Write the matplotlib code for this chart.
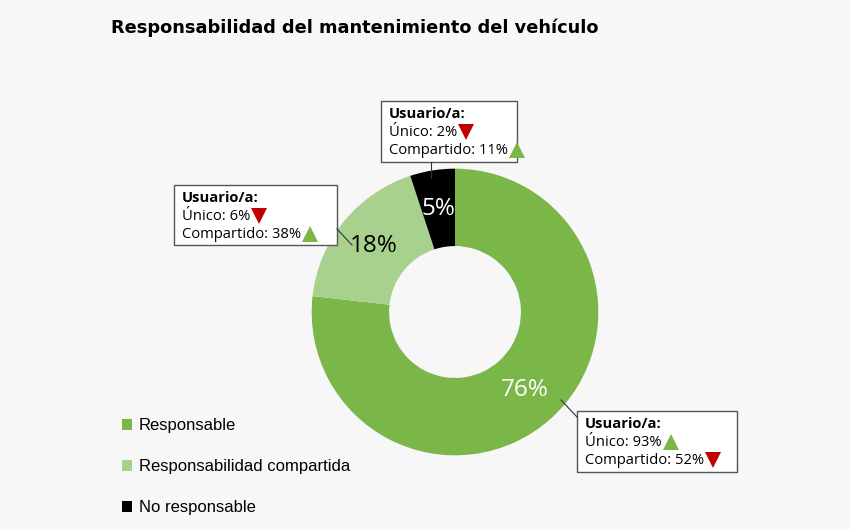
import matplotlib.pyplot as plt
from matplotlib.patches import Rectangle

# %%
labels = ["Responsable", "Responsabilidad compartida", "No responsable"]
shares = [76, 18, 5]
colors = ["#7AB648", "#A9D18E", "#000000"]
pct_colors = ["white", "black", "white"]

# callout data per slice: "Único" and "Compartido" user values with trend
unico = [93, 6, 2]
unico_up = [True, False, False]
compartido = [52, 38, 11]
compartido_up = [False, True, True]

# callout boxes in figure pixels (left, top, width, height) and connector lines
boxes = [(577, 411, 160, 61), (174, 185, 163, 60), (381, 101, 136, 61)]
connectors = [((577, 417), (561, 400)), ((337, 229), (352, 245)), ((431, 162), (431, 178))]

bg = "#F7F7F7"
up_color = "#7AB648"
down_color = "#C00000"
box_font = "Open Sans"

# %%
W, H = 850, 530
fig = plt.figure(figsize=(W / 100, H / 100), dpi=100, facecolor=bg)

cx, cy, half = 455, 312, 172
ax = fig.add_axes([(cx - half) / W, (H - cy - half) / H, 2 * half / W, 2 * half / H])
ax.set_facecolor(bg)
wedges, _, autotexts = ax.pie(
    shares,
    colors=colors,
    startangle=90,
    counterclock=False,
    radius=1.0,
    autopct="%d",
    pctdistance=0.73,
    wedgeprops=dict(width=0.54, edgecolor="none"),
)
for t, v, c in zip(autotexts, shares, pct_colors):
    t.set_text(f"{v}%")
    t.set_color(c)
    t.set_fontsize(17.5)
    t.set_family(box_font)
ax.set_xlim(-1.2, 1.2)
ax.set_ylim(-1.2, 1.2)
ax.set_aspect("equal")
ax.axis("off")

fig.text(111 / W, 1 - 28 / H, "Responsabilidad del mantenimiento del vehículo",
         fontsize=12.8, fontweight="bold", family="DejaVu Sans", va="center", ha="left")

leg = fig.legend(wedges, labels, loc="upper left", bbox_to_anchor=(122 / W, 1 - 418 / H),
                 frameon=False, prop=dict(family="Liberation Sans", size=12),
                 labelspacing=1.56, handlelength=0.62, handleheight=0.62,
                 handletextpad=0.4, borderpad=0, borderaxespad=0)

# overlay axes in pixel coordinates for the callouts
ov = fig.add_axes([0, 0, 1, 1])
ov.set_xlim(0, W)
ov.set_ylim(H, 0)
ov.axis("off")
ov.patch.set_alpha(0)

line_texts = []
for i, (left, top, bw, bh) in enumerate(boxes):
    ov.add_patch(Rectangle((left, top), bw, bh, facecolor="white", edgecolor="#555555", lw=1.0))
    (x0, y0), (x1, y1) = connectors[i]
    ov.plot([x0, x1], [y0, y1], color="#333333", lw=0.8)
    tx = left + 8
    ov.text(tx, top + 13, "Usuario/a:", fontsize=10.6, fontweight="bold", family=box_font,
            va="center", ha="left")
    t1 = ov.text(tx, top + 31, f"Único: {unico[i]}%", fontsize=10.6, family=box_font,
                 va="center", ha="left")
    t2 = ov.text(tx, top + 49, f"Compartido: {compartido[i]}%", fontsize=10.6, family=box_font,
                 va="center", ha="left")
    line_texts.append((t1, unico_up[i], top + 31))
    line_texts.append((t2, compartido_up[i], top + 49))

fig.canvas.draw()
renderer = fig.canvas.get_renderer()
for t, up, y in line_texts:
    bb = t.get_window_extent(renderer)
    ov.plot(bb.x1 + 9, y, marker="^" if up else "v", ms=11, mew=0,
            color=up_color if up else down_color)

fig.savefig("out.png", dpi=100, facecolor=bg)
